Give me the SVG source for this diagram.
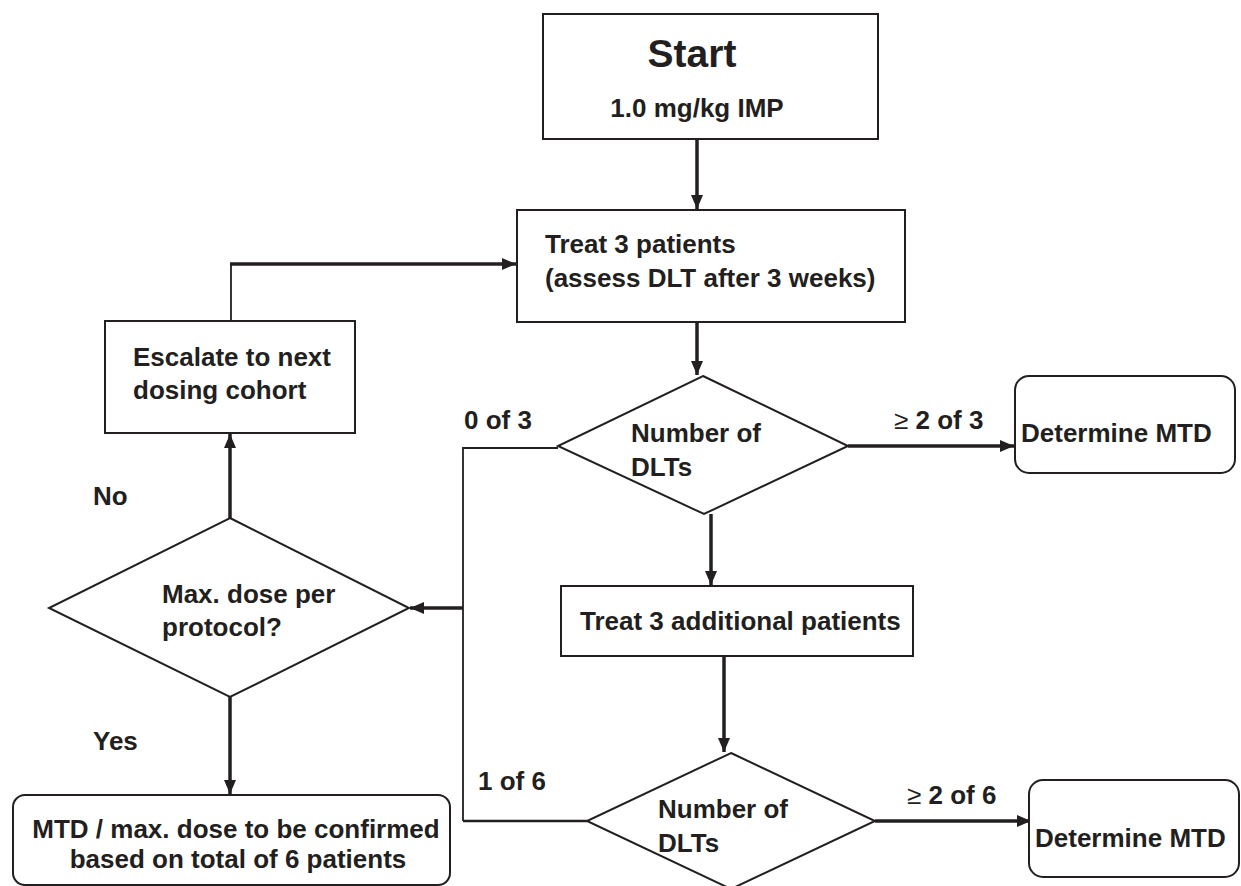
<svg xmlns="http://www.w3.org/2000/svg" width="1241" height="886" viewBox="0 0 1241 886">
<style>
.box{fill:#fff;stroke:#231f20;stroke-width:2}
.t{font-family:"Liberation Sans",Arial,sans-serif;font-weight:bold;font-size:26px;fill:#231f20}
.big{font-size:39px}
.ge{font-weight:normal}
.thick{fill:none;stroke:#231f20;stroke-width:3.5}
.thin{fill:none;stroke:#231f20;stroke-width:1.8}
</style>
<defs>
<marker id="ah" viewBox="0 0 14 12" refX="14" refY="6" markerWidth="14" markerHeight="12" markerUnits="userSpaceOnUse" orient="auto">
<path d="M0,0 L14,6 L0,12 z" fill="#231f20"/>
</marker>
</defs>
<rect width="1241" height="886" fill="#fff"/>
<g id="connectors">
<path class="thick" d="M697,139 V209" marker-end="url(#ah)"/>
<path class="thick" d="M697,322 V375" marker-end="url(#ah)"/>
<path class="thick" d="M711,514 V585" marker-end="url(#ah)"/>
<path class="thick" d="M724,656 V752" marker-end="url(#ah)"/>
<path class="thick" d="M848,446 H1014" marker-end="url(#ah)"/>
<path class="thick" d="M875,821 H1031" marker-end="url(#ah)"/>
<path class="thin" d="M558,448 H463 V821"/>
<path class="thin" d="M463,821 H587" style="stroke-width:2.6"/>
<path class="thick" d="M463,608 H410" marker-end="url(#ah)"/>
<path class="thick" d="M230,518 V434" marker-end="url(#ah)"/>
<path class="thin" d="M231,321 V264"/>
<path class="thick" d="M230,264 H516" marker-end="url(#ah)"/>
<path class="thick" d="M230,697 V794" marker-end="url(#ah)"/>
</g>
<g id="start">
<rect class="box" x="543" y="14" width="335" height="125"/>
<text class="t big" x="692" y="67" text-anchor="middle">Start</text>
<text class="t" x="697" y="117" text-anchor="middle">1.0 mg/kg IMP</text>
</g>
<g id="treat3">
<rect class="box" x="517" y="210" width="388" height="112"/>
<text class="t" x="545" y="253">Treat 3 patients</text>
<text class="t" x="545" y="287">(assess DLT after 3 weeks)</text>
</g>
<g id="dlt1">
<polygon class="box" points="703,376 848,446 704,514 558,446"/>
<text class="t" x="631" y="442">Number of</text>
<text class="t" x="631" y="476">DLTs</text>
</g>
<g id="mtd1">
<rect class="box" x="1015" y="376" width="220" height="97" rx="14"/>
<text class="t" x="1021" y="442">Determine MTD</text>
</g>
<g id="escalate">
<rect class="box" x="105" y="321" width="250" height="112"/>
<text class="t" x="133" y="366">Escalate to next</text>
<text class="t" x="133" y="399">dosing cohort</text>
</g>
<g id="maxdose">
<polygon class="box" points="230,518 409,608 230,697 49,608"/>
<text class="t" x="162" y="603">Max. dose per</text>
<text class="t" x="162" y="636">protocol?</text>
</g>
<g id="treat3add">
<rect class="box" x="561" y="586" width="352" height="70"/>
<text class="t" x="580" y="630">Treat 3 additional patients</text>
</g>
<g id="dlt2">
<polygon class="box" points="731,753 875,821 731,889 587,821"/>
<text class="t" x="658" y="818">Number of</text>
<text class="t" x="658" y="852">DLTs</text>
</g>
<g id="mtd2">
<rect class="box" x="1029" y="780" width="210" height="97" rx="14"/>
<text class="t" x="1035" y="847">Determine MTD</text>
</g>
<g id="confirm">
<rect class="box" x="13" y="795" width="437" height="90" rx="12"/>
<text class="t" x="236" y="838" text-anchor="middle">MTD / max. dose to be confirmed</text>
<text class="t" x="238" y="868" text-anchor="middle">based on total of 6 patients</text>
</g>
<g id="labels">
<text class="t" x="464" y="429">0 of 3</text>
<text class="t" x="894" y="429"><tspan class="ge">≥</tspan> 2 of 3</text>
<text class="t" x="93" y="505">No</text>
<text class="t" x="93" y="750">Yes</text>
<text class="t" x="478" y="790">1 of 6</text>
<text class="t" x="907" y="804"><tspan class="ge">≥</tspan> 2 of 6</text>
</g>
</svg>
